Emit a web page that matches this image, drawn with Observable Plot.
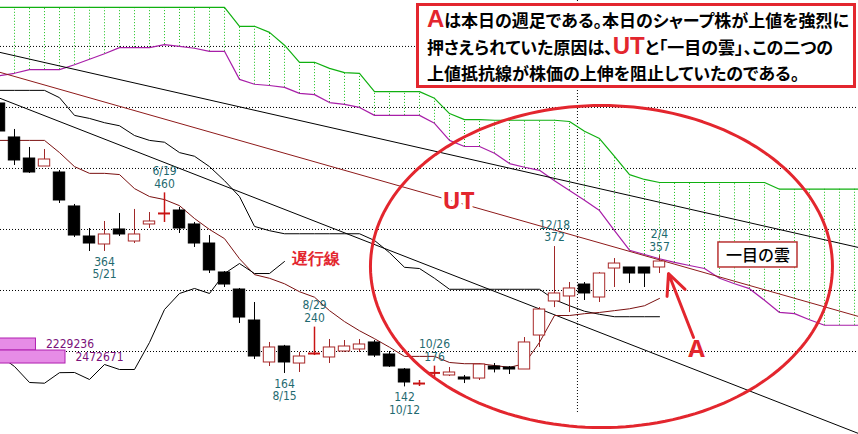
<!DOCTYPE html>
<html><head><meta charset="utf-8">
<script src="https://cdn.jsdelivr.net/npm/d3@7"></script>
<script src="https://cdn.jsdelivr.net/npm/@observablehq/plot@0.6"></script>
<style>
html,body{margin:0;padding:0;background:#fff;overflow:hidden}
#wrap{position:relative;width:858px;height:434px;overflow:hidden}
#note{position:absolute;left:416px;top:3px;width:426px;height:78px;border:3px solid #e3262e;background:#fff;
 font-family:"Noto Sans CJK JP",sans-serif;font-weight:700;font-size:17px;line-height:26.7px;color:#000;
 padding:1px 0 0 8px;white-space:nowrap;font-feature-settings:"palt"}
#note .big{font-family:"Liberation Sans",Arial,sans-serif;color:#e3262e;font-size:24px;font-weight:700;line-height:0}
</style></head>
<body>
<div id="wrap"><div id="chart"></div>
<div id="note"><span class="big">A</span>は本日の週足である。本日のシャープ株が上値を強烈に<br>押さえられていた原因は、<span class="big">UT</span>と「一目の雲」、この二つの<br>上値抵抗線が株価の上伸を阻止していたのである。</div>
</div>
<script>
// ---- weekly candles (index 0 = leftmost week, partly cut off) ----
const open  = [606.5,550.8,516.3,503.2,493.4,437.7,388.5,375.4,400.0,380.3,408.2,425.5,431.1,408.2,377.0,329.5,301.6,250.8,182.0,208.2,180.3,196.0,190.2,200.0,203.3,214.8,195.1,170.5,147.0,164.5,160.7,157.4,155.7,175.4,173.8,170.5,226.2,282.0,290.2,309.8,288.5,336.0,337.7,337.7,337.7];
const close = [560.6,513.1,493.4,514.7,447.5,390.1,377.0,391.8,391.8,391.8,413.1,427.0,401.6,377.0,332.8,309.8,255.7,191.8,206.6,182.0,191.8,197.4,206.6,208.2,211.5,193.4,175.4,149.2,148.0,165.3,165.6,154.1,178.7,170.5,170.5,214.8,268.8,295.1,303.3,295.1,327.8,344.2,327.8,327.8,347.5];
const high  = [611.4,563.9,534.4,531.1,496.7,441.0,401.6,413.1,426.2,432.8,427.8,460,436.1,411.5,390.1,331.1,303.3,280.3,214.8,210.0,198.4,240,219.7,218.0,219.7,218.0,200.0,172.1,152.5,176,173.8,160.7,180.3,180.3,175.4,222.9,272.0,372,313.1,313.1,329.5,352.4,337.7,337.7,357];
const low   = [557.3,504.9,491.8,503.2,442.6,386.9,363.9,364,388.5,377.0,401.6,411.5,393.4,370.5,327.8,304.9,245.9,186.9,175.4,164,165.6,193.4,180.3,198.4,198.4,190.2,173.8,142,142.6,157.4,159.0,147.5,152.5,164.9,162.3,170.5,206.6,272.0,263.9,283.6,280.3,304.9,311.4,304.9,327.8];

// ---- Ichimoku ----
const cloudUpper = [764,764,764,764,764,764,764,764,764,764,764,764,764,764,764,764,733,733,723,702,674,674,664,657,656,626,626,626,626,615,590,580,580,579,579,579,579,579,577,561,549,520,490,482,477,477,477,477,477,477,477,477,466,466,466,466,466,466,466];
const cloudLower = [652,656,662,662,662,670,679,688,698,698,698,703,700,697,692,692,646,638,636,633,623,621,608,605,600,587,587,587,587,574,546,536,536,525,508,502,497,480,464,448,431,398,366,359,352,346,341,336,320,311,303,284,264,262,252,243,243,243,243];
const kijun  = [628,628,628,628,616,587,582,575,570,554,546,543,526,520,503,480,454,405,398,393,393,393,393,393,393,382,362,338,336,320,302,302,302,302,302,302,302,285,275,266,261,257,257,257,257];
const tenkan = [546,546,546,546,526,503,492,492,490,467,454,449,439,418,400,385,352,326,320,311,298,289,267,249,234,221,207,192,192,192,182,180,180,177,174,180,215,259,259,262,264,267,270,275,287];
const chikouShift = 25;

// ---- trend lines (anchor at week 0 and week 58) ----
const trendName  = ["T1","UT","T3"];
const trendStart = [690.4,657.8,615.3];
const trendEnd   = [366.4,252.3,58.6];
const trendColor = ["#000","#8e1a1a","#000"];

// ---- price-band volume ----
const volLow   = [201.6,180.3];
const volHigh  = [221.3,201.6];
const volValue = [2229236,2472671];

// ---- high / low labels ----
const hiLabelIdx  = [11,21,29,37,44];
const hiLabelDate = ["6/19","8/29","10/26","12/18","2/4"];
const hiLabelVal  = ["460","240","176","372","357"];
const loLabelIdx  = [7,19,27];
const loLabelDate = ["5/21","8/15","10/12"];
const loLabelVal  = ["364","164","142"];

const gridPrices = [200,300,400,500,600,700];
const yearBreak = 38.53;

// ---- annotations ----
const red = "#e3262e";
const annoText = ["UT","遅行線","A"];
const annoX = [30.6,21.13,46.47];
const annoY = [445.9,352.4,203.3];
const annoSize = [24,16,24];
const ellipseC = [40.13,339.3], ellipseR = [15.4,263.9];
const arrowFrom = [46.27,223], arrowTo = [44.6,327.8];
const cloudBox = {x1:47.93,x2:53.2,y1:337.7,y2:378.7,label:"一目の雲",x:50.57,y:357.4};

// ---- build tables ----
const candles = open.map((o,i)=>({i,open:o,close:close[i],high:high[i],low:low[i]}));
const isDoji = d => Math.abs(d.close-d.open) < 2.5;
const bear = candles.filter(d=>!isDoji(d) && d.close<d.open);
const bull = candles.filter(d=>!isDoji(d) && d.close>=d.open);
const doji = candles.filter(isDoji);
const cloud = cloudUpper.map((u,i)=>({i,upper:u,lower:cloudLower[i]}));
const kij = kijun.map((v,i)=>({i,v}));
const ten = tenkan.map((v,i)=>({i,v}));
const chikou = candles.slice(chikouShift).map((d,k)=>({i:k,v:d.close}));
const trends = trendName.map((n,k)=>[{i:0,v:trendStart[k],n},{i:58,v:trendEnd[k],n}]);
const volX = d3.scaleLinear().domain([0,d3.max(volValue)]).range([-15.6,4.4]);
const vols = volValue.map((v,k)=>({x2:volX(v),lo:volLow[k],hi:volHigh[k],mid:(volLow[k]+volHigh[k])/2,label:String(v)}));
const hiL = hiLabelIdx.map((i,k)=>({i,y:candles[i].high,date:hiLabelDate[k],val:hiLabelVal[k]}));
const loL = loLabelIdx.map((i,k)=>({i,y:candles[i].low,date:loLabelDate[k],val:loLabelVal[k]}));
const annos = annoText.map((t,k)=>({t,x:annoX[k],y:annoY[k],s:annoSize[k]}));
const ellipse = d3.range(0,361,2).map(a=>({x:ellipseC[0]+ellipseR[0]*Math.cos(a*Math.PI/180),y:ellipseC[1]+ellipseR[1]*Math.sin(a*Math.PI/180)}));

const teal = "#1f6a70";
const numFont = "'Liberation Sans Narrow','DejaVu Sans Condensed',sans-serif";
const jpFont = "'Noto Sans CJK JP',sans-serif";
const lblSize = 12;

const chart = Plot.plot({
  width:858, height:434, margin:0,
  x:{domain:[1/15,859/15], axis:null},
  y:{domain:[63.97,775.3], axis:null},
  style:{background:"#fff", overflow:"hidden"},
  marks:[
    Plot.ruleY(gridPrices,{stroke:"#000",strokeDasharray:"1,2",strokeWidth:1}),
    Plot.ruleX([yearBreak],{y1:100,y2:775.3,stroke:"#000",strokeDasharray:"1,2",strokeWidth:1}),
    Plot.ruleX(cloud,{x:"i",y1:"lower",y2:"upper",stroke:"#19c019",strokeDasharray:"1,2",strokeWidth:1,clip:true}),
    Plot.line(cloud,{x:"i",y:"upper",stroke:"#10b010",strokeWidth:1.2,clip:true}),
    Plot.line(cloud,{x:"i",y:"lower",stroke:"#a81ea8",strokeWidth:1.2,clip:true}),
    ...trends.map((t,k)=>Plot.line(t,{x:"i",y:"v",stroke:trendColor[k],strokeWidth:1,clip:true})),
    Plot.line(kij,{x:"i",y:"v",stroke:"#000",strokeWidth:1,clip:true}),
    Plot.line(ten,{x:"i",y:"v",stroke:"#7a1010",strokeWidth:1,clip:true}),
    Plot.line(chikou,{x:"i",y:"v",stroke:"#000",strokeWidth:1,clip:true}),
    Plot.rect(vols,{x1:-16,x2:"x2",y1:"lo",y2:"hi",fill:"#e68ce6",stroke:"#b020b0",strokeWidth:1,clip:true}),
    Plot.text(vols,{x:"x2",y:"mid",text:"label",dx:10,textAnchor:"start",fill:"#7a107a",fontSize:lblSize,fontFamily:numFont}),
    Plot.ruleX(bear,{x:"i",y1:"low",y2:"high",stroke:"#000",strokeWidth:1,clip:true}),
    Plot.ruleX(bull,{x:"i",y1:"low",y2:"high",stroke:"#a02828",strokeWidth:1,clip:true}),
    Plot.ruleX(doji,{x:"i",y1:"low",y2:"high",stroke:"#c81414",strokeWidth:1.5,clip:true}),
    Plot.rect(bear,{x1:d=>d.i-0.38,x2:d=>d.i+0.38,y1:"open",y2:"close",fill:"#000",stroke:"#000",clip:true}),
    Plot.rect(bull,{x1:d=>d.i-0.38,x2:d=>d.i+0.38,y1:"open",y2:"close",fill:"#fff",stroke:"#a82828",clip:true}),
    Plot.ruleY(doji,{y:d=>(d.open+d.close)/2,x1:d=>d.i-0.4,x2:d=>d.i+0.4,stroke:"#c81414",strokeWidth:2}),
    Plot.text(hiL,{x:"i",y:"y",text:"val",dy:-9,fill:teal,fontSize:lblSize,fontFamily:numFont}),
    Plot.text(hiL,{x:"i",y:"y",text:"date",dy:-21.5,fill:teal,fontSize:lblSize,fontFamily:numFont}),
    Plot.text(loL,{x:"i",y:"y",text:"val",dy:10.5,fill:teal,fontSize:lblSize,fontFamily:numFont}),
    Plot.text(loL,{x:"i",y:"y",text:"date",dy:23,fill:teal,fontSize:lblSize,fontFamily:numFont}),
    Plot.line(ellipse,{x:"x",y:"y",stroke:red,strokeWidth:3}),
    Plot.arrow([0],{x1:arrowFrom[0],y1:arrowFrom[1],x2:arrowTo[0],y2:arrowTo[1],stroke:red,strokeWidth:3,headLength:12,headAngle:50}),
    Plot.text(annos,{x:"x",y:"y",text:"t",fontSize:d=>d.s,fill:red,fontWeight:"bold",fontFamily:d=>d.t==="遅行線"?jpFont:"'Liberation Sans',Arial,sans-serif",stroke:"#fff",strokeWidth:d=>d.t==="UT"?6:0}),
    Plot.rect([cloudBox],{x1:"x1",x2:"x2",y1:"y1",y2:"y2",fill:"#fff",stroke:"#b83232",strokeWidth:1.5}),
    Plot.text([cloudBox],{x:"x",y:"y",text:"label",fontSize:16,fontFamily:jpFont,fill:"#000",fontWeight:500})
  ]
});
document.getElementById("chart").appendChild(chart);
</script>
</body></html>
